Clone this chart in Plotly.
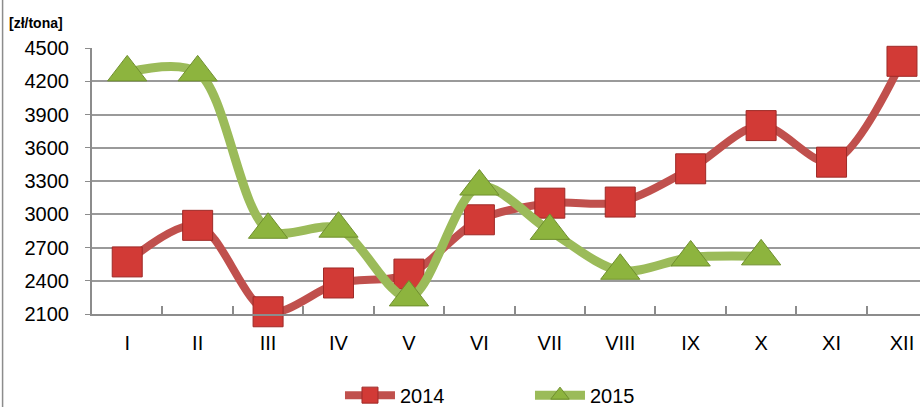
import plotly.graph_objects as go

# Data
months = ["I", "II", "III", "IV", "V", "VI", "VII", "VIII", "IX", "X", "XI", "XII"]
price_2014 = [2570, 2900, 2120, 2380, 2460, 2950, 3100, 3110, 3410, 3800, 3470, 4380]
price_2015 = [4280, 4280, 2860, 2870, 2250, 3250, 2850, 2490, 2610, 2620]
y_ticks = [2100, 2400, 2700, 3000, 3300, 3600, 3900, 4200, 4500]

RED = "#c0504d"
GREEN = "#9bbb59"
FONT = "Liberation Sans"

fig = go.Figure()

fig.add_trace(
    go.Scatter(
        x=months,
        y=price_2014,
        mode="lines+markers",
        name="2014",
        line=dict(color=RED, width=8, shape="spline", smoothing=0.9),
        marker=dict(
            symbol="square",
            size=30,
            color="#d23a36",
            line=dict(color="#9e2a27", width=1),
        ),
        cliponaxis=False,
    )
)

fig.add_trace(
    go.Scatter(
        x=months[: len(price_2015)],
        y=price_2015,
        mode="lines+markers",
        name="2015",
        line=dict(color=GREEN, width=9, shape="spline", smoothing=0.9),
        marker=dict(
            symbol="triangle-up",
            size=34,
            color="#8db43e",
            line=dict(color="#6f8f2e", width=1),
        ),
        cliponaxis=False,
    )
)

# unit label above the y axis
fig.add_annotation(
    text="<b>[zł/tona]</b>",
    xref="paper",
    yref="paper",
    x=-0.0676,
    y=1.094,
    xanchor="center",
    yanchor="middle",
    showarrow=False,
    font=dict(family=FONT, size=14, color="black"),
)

# chart frame on the left
fig.add_shape(
    type="line",
    xref="paper",
    yref="paper",
    x0=-0.108,
    x1=-0.108,
    y0=-0.5,
    y1=1.3,
    line=dict(color="#8c8c8c", width=1.5),
)

fig.update_layout(
    width=920,
    height=407,
    margin=dict(l=92, r=0, t=48, b=93, autoexpand=False),
    paper_bgcolor="white",
    plot_bgcolor="white",
    font=dict(family=FONT, size=20, color="black"),
    legend=dict(
        orientation="h",
        x=0.2995,
        xanchor="left",
        y=-0.305,
        yanchor="middle",
        font=dict(family=FONT, size=20),
        itemwidth=50,
        entrywidth=125,
        tracegroupgap=0,
    ),
    showlegend=True,
)

fig.update_xaxes(
    type="category",
    range=[-0.5, 11.256],
    showgrid=False,
    showline=True,
    linecolor="#8c8c8c",
    linewidth=2,
    ticks="inside",
    tickson="boundaries",
    ticklen=8,
    tickcolor="#8c8c8c",
    tickwidth=1.5,
    ticklabelstandoff=10,
    tickfont=dict(family=FONT, size=20),
    automargin=False,
)

fig.update_yaxes(
    range=[2100, 4500],
    tickvals=y_ticks,
    showgrid=True,
    gridcolor="#9a9a9a",
    gridwidth=1.5,
    showline=True,
    linecolor="#8c8c8c",
    linewidth=2,
    ticks="outside",
    ticklen=5,
    tickcolor="#8c8c8c",
    ticklabelstandoff=12,
    zeroline=False,
    tickfont=dict(family=FONT, size=20),
    automargin=False,
)

# drop the default 8px page margin so the figure fills the window
fig.write_html(
    "out.html",
    config={"displayModeBar": False},
    post_script="document.body.style.margin = '0';",
)
